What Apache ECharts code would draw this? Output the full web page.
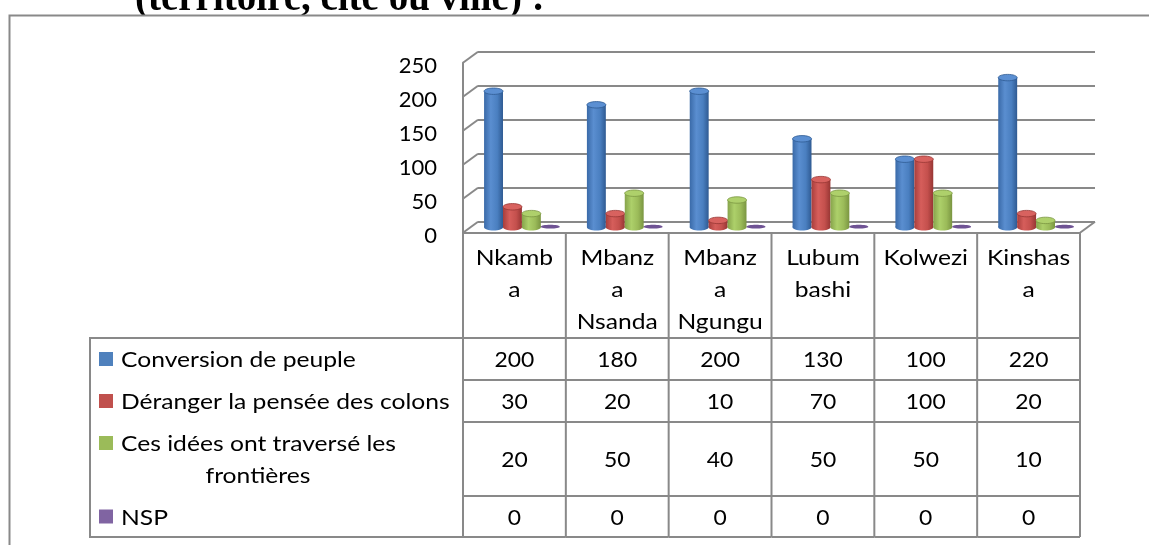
<!DOCTYPE html>
<html><head><meta charset="utf-8">
<script src="https://cdn.jsdelivr.net/npm/echarts@6/dist/echarts.min.js"></script>
<style>html,body{margin:0;padding:0;background:#fff}#c{width:1149px;height:545px}</style>
</head><body><div id="c"></div>
<script>
// ---- data ----
const categories = ['Nkamba', 'Mbanza Nsanda', 'Mbanza Ngungu', 'Lubumbashi', 'Kolwezi', 'Kinshasa'];
const headerLabels = ['Nkamb\na', 'Mbanz\na\nNsanda', 'Mbanz\na\nNgungu', 'Lubum\nbashi', 'Kolwezi', 'Kinshas\na'];
const seriesNames = ['Conversion de peuple', 'Déranger la pensée des colons', 'Ces idées ont traversé les frontières', 'NSP'];
const conversion = [200, 180, 200, 130, 100, 220];
const deranger = [30, 20, 10, 70, 100, 20];
const idees = [20, 50, 40, 50, 50, 10];
const nsp = [0, 0, 0, 0, 0, 0];
const yTicks = [0, 50, 100, 150, 200, 250];
const titleText = '(territoire, cité ou ville) :';

// ---- styling / layout ----
const allSeries = [conversion, deranger, idees, nsp];
const colors = ['#4F81BD', '#C0504D', '#9BBB59', '#8064A2'];
const bodyStops = [
  ['#3a6aa8', '#5a8ed0', '#4a7fc0', '#2f5a92'],
  ['#a83e3c', '#d65e5b', '#c4504d', '#973634'],
  ['#86a34b', '#add06a', '#9bbb59', '#7a9541'],
  ['#6a4e8c', '#9078b4', '#8064a2', '#5d4780']
];
const topFill = ['#5b8fd2', '#d8625f', '#aed06b', '#8f75b3'];
const LINE = '#898989';
const FONT = 'Lato';
const FS = 22;
const WSCALE = 1.12;   // horizontal stretch of word labels
const NSCALE = 1.04;   // horizontal stretch of numbers
const BACK = { left: 478, top: 51.7 };
const PW = 617, PH = 170, DX = 15, DY = 11;
const rowBounds = [338, 380, 422, 496, 537];
const labelLeft = 90;

function grad(k) {
  const s = bodyStops[k];
  return new echarts.graphic.LinearGradient(0, 0, 1, 0, [
    { offset: 0, color: s[0] }, { offset: 0.35, color: s[1] },
    { offset: 0.7, color: s[2] }, { offset: 1, color: s[3] }
  ]);
}

function txt(text, x, y, align, vAlign, sx, extra) {
  const st = { text: text, x: 0, y: 0, align: align, verticalAlign: vAlign, fontFamily: FONT, fontSize: FS, fill: '#000' };
  if (extra) Object.assign(st, extra);
  return { type: 'text', x: x, y: y, scaleX: sx, style: st };
}

function renderWall(params, api) {
  const v = api.value(1);
  const y = api.coord([0, v])[1];
  const cs = params.coordSys;
  const ls = { stroke: LINE, lineWidth: 2 };
  const ch = [{ type: 'line', shape: { x1: cs.x - DX, y1: y + DY, x2: cs.x, y2: y }, style: ls }];
  if (v === 0) {
    ch.push({ type: 'line', shape: { x1: cs.x + cs.width, y1: y, x2: cs.x + cs.width - DX, y2: y + DY }, style: ls });
  }
  return { type: 'group', children: ch };
}

function makeCylinder(k) {
  return function (params, api) {
    const i = api.value(0), v = api.value(1);
    const p = api.coord([i, v]);
    const b = api.coord([i, 0]);
    const slot = api.size([1, 0])[0];
    const bw = slot * 0.184;
    const cx = p[0] + (k - 1.5) * bw;
    const rx = bw / 2;
    if (v === 0) {
      return { type: 'ellipse', shape: { cx: cx, cy: b[1] - 0.5, rx: rx, ry: 1.9 }, style: { fill: '#6f5394' } };
    }
    const ry = bw * 0.17;
    const g = grad(k);
    return {
      type: 'group', children: [
        { type: 'ellipse', shape: { cx: cx, cy: b[1], rx: rx, ry: ry }, style: { fill: g } },
        { type: 'rect', shape: { x: cx - rx, y: p[1], width: bw, height: b[1] - p[1] }, style: { fill: g } },
        { type: 'ellipse', shape: { cx: cx, cy: p[1], rx: rx, ry: ry }, style: { fill: topFill[k], stroke: bodyStops[k][3], lineWidth: 0.8 } }
      ]
    };
  };
}

function renderTable(params, api) {
  const i = api.value(0);
  const c = api.coord([i, 0]);
  const w = api.size([1, 0])[0];
  const L = c[0] - w / 2, R = c[0] + w / 2;
  const top = c[1];
  const ls = { stroke: LINE, lineWidth: 2 };
  const ch = [];
  ch.push({ type: 'line', shape: { x1: L, y1: top, x2: L, y2: rowBounds[4] }, style: ls });
  if (i === categories.length - 1) ch.push({ type: 'line', shape: { x1: R, y1: top, x2: R, y2: rowBounds[4] }, style: ls });
  rowBounds.forEach(function (y) { ch.push({ type: 'line', shape: { x1: L, y1: y, x2: R, y2: y }, style: ls }); });
  ch.push(txt(headerLabels[i], c[0], top + 9, 'center', 'top', WSCALE, { lineHeight: 32 }));
  allSeries.forEach(function (arr, k) {
    ch.push(txt(String(arr[i]), c[0], (rowBounds[k] + rowBounds[k + 1]) / 2 + 1, 'center', 'middle', NSCALE));
  });
  return { type: 'group', children: ch };
}

// title, frame and row label column (legend keys + names)
const gl = [];
gl.push({ type: 'text', z: -20, style: { text: titleText, x: 135, y: -0.5, verticalAlign: 'middle', font: 'bold 39px "Liberation Serif"', fill: '#000' } });
gl.push({ type: 'rect', z: -10, shape: { x: 9.5, y: 15.5, width: 1300, height: 700 }, style: { fill: '#fff', stroke: LINE, lineWidth: 2 } });
gl.push({ type: 'rect', z: 5, shape: { x: labelLeft, y: rowBounds[0], width: BACK.left - DX - labelLeft, height: rowBounds[4] - rowBounds[0] }, style: { fill: 'none', stroke: LINE, lineWidth: 2 } });
for (let k = 0; k < 4; k++) {
  const yc = (rowBounds[k] + rowBounds[k + 1]) / 2 + 1;
  const lines = k === 2 ? ['Ces idées ont traversé les', 'frontières'] : [seriesNames[k]];
  const y1 = lines.length > 1 ? yc - 16 : yc;
  gl.push({ type: 'rect', z: 5, shape: { x: 99, y: y1 - 8, width: 14, height: 14 }, style: { fill: colors[k] } });
  const t1 = txt(lines[0], 121, y1, 'left', 'middle', WSCALE); t1.z = 5;
  gl.push(t1);
  if (lines.length > 1) {
    const t2 = txt(lines[1], 258, yc + 16, 'center', 'middle', WSCALE); t2.z = 5;
    gl.push(t2);
  }
}

const grids = [0, 1, 2].map(function (n) {
  return { left: BACK.left - DX * n / 2, top: BACK.top + DY * n / 2, width: PW, height: PH, containLabel: false, outerBoundsMode: 'none' };
});

const option = {
  animation: false,
  backgroundColor: '#fff',
  graphic: { elements: gl },
  grid: grids,
  xAxis: [0, 1, 2].map(function (n) {
    return {
      type: 'category', gridIndex: n, data: categories,
      axisLine: { show: n === 2, lineStyle: { color: LINE, width: 2 } },
      axisTick: { show: false }, axisLabel: { show: false }, splitLine: { show: false }
    };
  }),
  yAxis: [0, 1, 2].map(function (n) {
    return {
      type: 'value', gridIndex: n, min: 0, max: 250, interval: 50,
      axisLine: { show: n === 2, lineStyle: { color: LINE, width: 2 } },
      axisTick: { show: false },
      axisLabel: { show: n === 2, margin: 26, fontFamily: FONT, fontSize: FS, color: '#000', verticalAlign: 'top', lineHeight: 7 },
      splitLine: { show: n === 0, lineStyle: { color: LINE, width: 2 } }
    };
  }),
  series: [
    { type: 'custom', name: 'walls', xAxisIndex: 0, yAxisIndex: 0, renderItem: renderWall, data: yTicks.map(function (v) { return [0, v]; }), silent: true }
  ].concat(allSeries.map(function (arr, k) {
    return {
      type: 'custom', name: seriesNames[k], xAxisIndex: 1, yAxisIndex: 1,
      renderItem: makeCylinder(k), data: arr.map(function (v, i) { return [i, v]; })
    };
  })).concat([
    { type: 'custom', name: 'table', xAxisIndex: 2, yAxisIndex: 2, renderItem: renderTable, data: categories.map(function (c, i) { return [i, 0]; }), silent: true }
  ])
};

const chart = echarts.init(document.getElementById('c'), null, { renderer: 'canvas' });
chart.setOption(option);
</script>
</body></html>
